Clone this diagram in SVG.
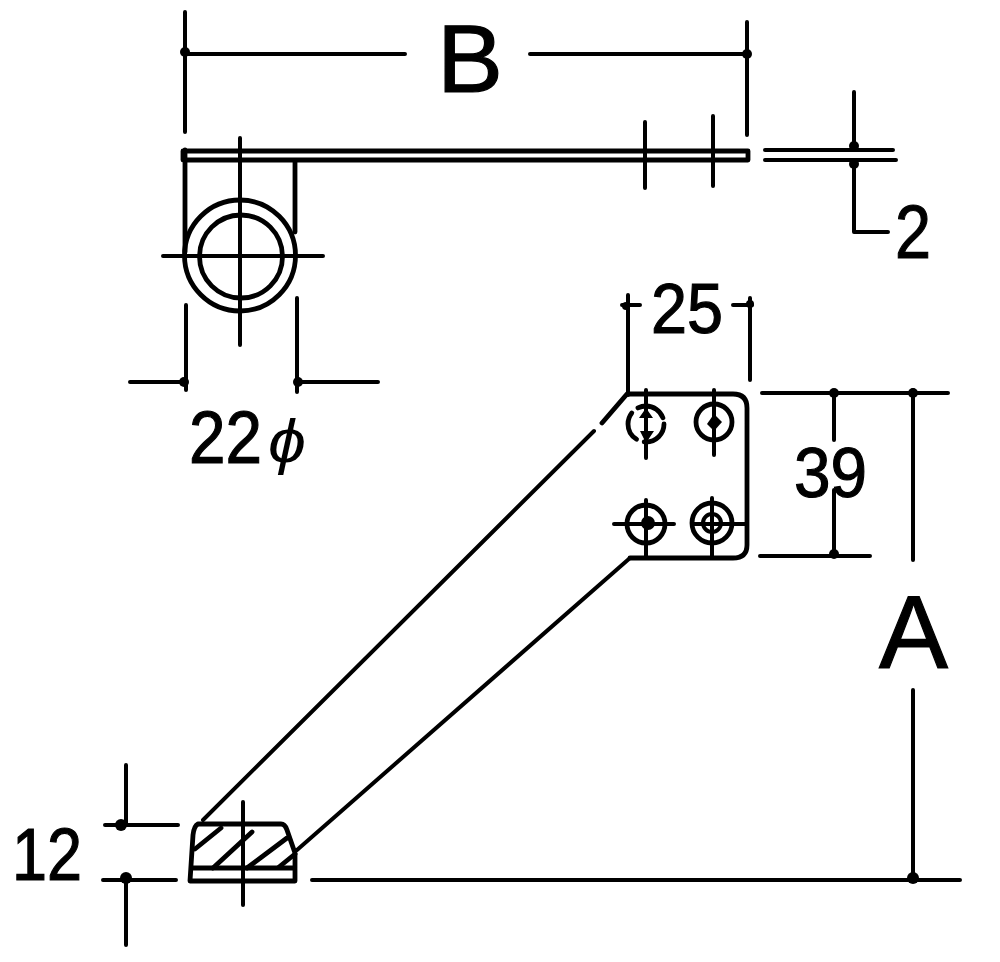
<svg xmlns="http://www.w3.org/2000/svg" width="1000" height="962" viewBox="0 0 1000 962">
<style>
.l{fill:none;stroke:#000;stroke-width:4;stroke-linecap:round;stroke-linejoin:round}
.h{stroke-width:4.800}
.d{fill:#000}
text{font-family:"Liberation Sans",Arial,sans-serif;fill:#000;stroke:#000;stroke-width:1.2}
</style>
<rect width="1000" height="962" fill="#fff"/>
<g id="top-view">
<path class="l h" d="M183 151H748V160H183ZM185 150V252M295 160V232"/>
<path class="l" d="M240 138V345M163 256H323M645 122V188M713 116V186"/>
<circle class="l h" cx="240" cy="255.500" r="55.500"/>
<circle class="l h" cx="241" cy="256.500" r="41.500"/>
</g>
<g id="bracket">
<path class="l h" d="M602 423L627 394H733Q747 394 747 408V545Q747 558 733 558H630"/>
<path class="l" d="M630 558L297 850M594 431L203 820"/>
</g>
<g id="holes">
<path class="l" d="M646 390V458M714 390V455M646 500V558M712 498V558M614 524H674M692 524H747"/>
<circle class="l h" cx="646" cy="424" r="18" stroke-dasharray="30 8"/>
<circle class="l h" cx="714" cy="422" r="18"/>
<circle class="l h" cx="646" cy="524" r="19"/>
<circle class="l h" cx="712" cy="523" r="20"/>
<path class="d" d="M639 418L646 408L653 418ZM640 431H654L646 443Z"/>
<path class="d" d="M707 424L714 414L722 422L714 431Z"/>
<circle class="d" cx="648" cy="523" r="7"/>
<circle class="l" cx="712" cy="523" r="9"/>
</g>
<g id="foot">
<path class="l h" d="M198 824H281Q285 824 287 830L295 853V881H190L193 835Q194 826 198 824ZM191 868H295"/>
<path class="l h" d="M195 849L221 828M213 868L252 832M247 868L287 838M279 867L295 854"/>
<path class="l" d="M243 802V905"/>
</g>
<g id="dimensions">
<path class="l" d="M185 12V132M747 22V135M185 54H405M530 54H748"/>
<path class="l" d="M854 92V150M765 150H893M765 160H896M854 160V232H888"/>
<path class="l" d="M186 305V390M297 298V392M130 382H185M297 382H378"/>
<path class="l" d="M628 295V395M750 298V380M622 305H640M733 305H752"/>
<path class="l" d="M762 393H948M760 556H870M834 393V440M834 490V556M913 390V560M913 690V880M312 880H960"/>
<path class="l" d="M105 825H178M103 880H176M126 765V825M126 880V945"/>
<g class="d">
<circle cx="185" cy="52" r="5"/><circle cx="747" cy="54" r="5"/>
<circle cx="854" cy="146" r="5"/><circle cx="854" cy="164" r="5"/>
<circle cx="184" cy="382" r="5"/><circle cx="298" cy="382" r="5"/>
<circle cx="626" cy="306" r="4"/><circle cx="750" cy="304" r="4"/>
<circle cx="834" cy="393" r="5"/><circle cx="913" cy="393" r="5"/>
<circle cx="834" cy="554" r="5"/><circle cx="913" cy="878" r="6"/>
<circle cx="121" cy="825" r="6"/><circle cx="126" cy="878" r="6"/>
</g>
</g>
<g id="labels">
<text x="437" y="92" font-size="97" textLength="66" lengthAdjust="spacingAndGlyphs">B</text>
<text x="879" y="668" font-size="104" textLength="69" lengthAdjust="spacingAndGlyphs">A</text>
<text x="895" y="258" font-size="76" textLength="36" lengthAdjust="spacingAndGlyphs">2</text>
<text x="651" y="333" font-size="70" textLength="72" lengthAdjust="spacingAndGlyphs">25</text>
<text x="794" y="497" font-size="70" textLength="73" lengthAdjust="spacingAndGlyphs">39</text>
<text x="189" y="463" font-size="74" textLength="73" lengthAdjust="spacingAndGlyphs">22</text>
<text x="268" y="462" font-size="62" font-style="italic" textLength="38" lengthAdjust="spacingAndGlyphs" style="stroke-width:0">ϕ</text>
<text x="12" y="880" font-size="74" textLength="70" lengthAdjust="spacingAndGlyphs">12</text>
</g>
</svg>
